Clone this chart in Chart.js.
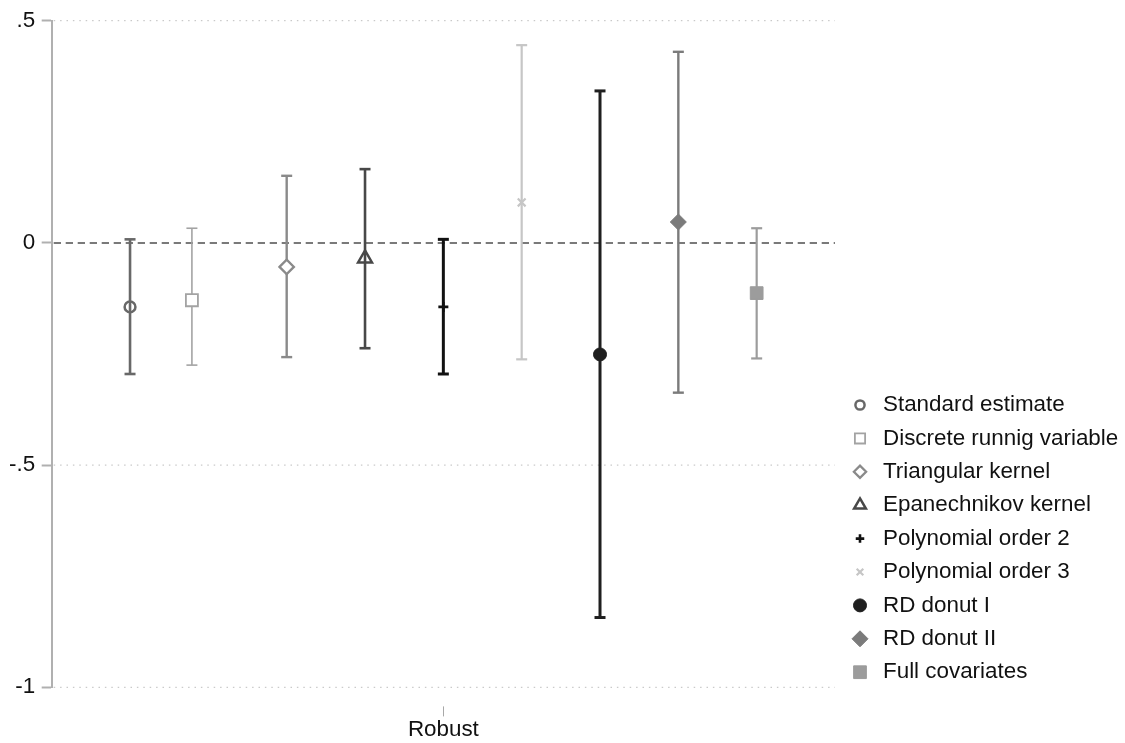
<!DOCTYPE html>
<html>
<head>
<meta charset="utf-8">
<script src="https://cdn.jsdelivr.net/npm/chart.js@4/dist/chart.umd.min.js"></script>
<style>
  html, body { margin: 0; padding: 0; background: #ffffff; }
  #wrap { width: 1125px; height: 743px; }
</style>
</head>
<body>
<div id="wrap"><canvas id="c" width="1125" height="743"></canvas></div>
<script>
// Estimates with 95% confidence intervals, one per specification
const methods = [
  'Standard estimate',
  'Discrete runnig variable',
  'Triangular kernel',
  'Epanechnikov kernel',
  'Polynomial order 2',
  'Polynomial order 3',
  'RD donut I',
  'RD donut II',
  'Full covariates'
];
const xPos     = [1, 1.79, 3, 4, 5, 6, 7, 8, 9];
const estimate = [-0.144, -0.129, -0.054, -0.035, -0.144, 0.091, -0.251, 0.047, -0.113];
const ciLow    = [-0.295, -0.275, -0.257, -0.237, -0.295, -0.262, -0.843, -0.337, -0.260];
const ciHigh   = [0.008, 0.033, 0.151, 0.166, 0.008, 0.445, 0.342, 0.430, 0.033];

const xTickValues = [5];
const xTickLabels = ['Robust'];
const yTickValues = [-1, -0.5, 0, 0.5];
const yTickLabels = ['-1', '-.5', '0', '.5'];

// Marker and line styling per specification
const lineColors   = ['#686868', '#a3a3a3', '#8a8a8a', '#484848', '#111111', '#c6c6c6', '#1f1f1f', '#7b7b7b', '#9c9c9c'];
const markerStyles = ['circle', 'rect', 'rectRot', 'triangle', 'cross', 'crossRot', 'circle', 'rectRot', 'rect'];
const markerFill   = ['rgba(255,255,255,0)', '#ffffff', '#ffffff', 'rgba(255,255,255,0)', '#ffffff', '#ffffff', null, null, null];
const markerRadius = [5.4, 8.5, 7.2, 8, 5, 5.5, 6.5, 8, 9];
const markerStroke = [2.5, 1.8, 2.3, 2.5, 2.6, 2.2, 1, 1, 1];
const barWidth     = [2.6, 1.6, 2.4, 2.6, 3, 2.2, 3, 2.4, 2.2];

const FONT = "'Liberation Sans', Arial, sans-serif";
const FONT_SIZE = 22.4;
const TEXT = '#111111';

const datasets = [];
methods.forEach((name, i) => {
  // confidence interval: vertical segment with horizontal caps
  datasets.push({
    type: 'line',
    label: name + ' CI',
    data: [{ x: xPos[i], y: ciLow[i] }, { x: xPos[i], y: ciHigh[i] }],
    borderColor: lineColors[i],
    borderWidth: barWidth[i],
    pointStyle: 'line',
    pointRadius: 5.5,
    pointBorderWidth: barWidth[i],
    pointBorderColor: lineColors[i],
    pointBackgroundColor: lineColors[i],
    fill: false,
    clip: false,
    order: 2
  });
  // point estimate
  datasets.push({
    type: 'scatter',
    label: name,
    data: [{ x: xPos[i], y: estimate[i] }],
    pointStyle: markerStyles[i],
    pointRadius: markerRadius[i],
    pointBorderWidth: markerStroke[i],
    pointBorderColor: lineColors[i],
    pointBackgroundColor: markerFill[i] || lineColors[i],
    clip: false,
    order: 1
  });
});

// Reference lines: dotted at the grid ticks, dashed at zero
const refLines = {
  id: 'refLines',
  beforeDatasetsDraw(chart) {
    const { ctx, chartArea: a, scales: { y } } = chart;
    ctx.save();
    yTickValues.forEach(v => {
      const py = y.getPixelForValue(v);
      if (v === 0) {
        ctx.setLineDash([7.3, 4.7]);
        ctx.strokeStyle = '#7a7a7a';
        ctx.lineWidth = 2;
      } else {
        ctx.setLineDash([1.5, 4.9]);
        ctx.strokeStyle = '#bdbdbd';
        ctx.lineWidth = 1;
      }
      ctx.beginPath();
      ctx.moveTo(a.left + 2, py);
      ctx.lineTo(a.right, py);
      ctx.stroke();
    });
    ctx.restore();
  }
};

// Legend column to the right of the plot
const sideLegend = {
  id: 'sideLegend',
  afterDraw(chart) {
    const ctx = chart.ctx;
    const markerX = 860, textX = 883, top = 405, row = 33.4;
    ctx.save();
    methods.forEach((name, i) => {
      const cy = top + i * row;
      const hollow = !!markerFill[i];
      ctx.setLineDash([]);
      ctx.fillStyle = hollow ? '#ffffff' : lineColors[i];
      ctx.strokeStyle = lineColors[i];
      ctx.lineWidth = markerStroke[i];
      Chart.helpers.drawPoint(ctx, {
        pointStyle: markerStyles[i],
        radius: markerRadius[i] * (hollow ? 0.85 : 1),
        borderWidth: markerStroke[i],
        rotation: 0
      }, markerX, cy);
      ctx.fillStyle = TEXT;
      ctx.font = FONT_SIZE + 'px ' + FONT;
      ctx.textBaseline = 'middle';
      ctx.textAlign = 'left';
      ctx.fillText(name, textX, cy);
    });
    ctx.restore();
  }
};

new Chart(document.getElementById('c'), {
  data: { datasets },
  options: {
    responsive: false,
    animation: false,
    events: [],
    devicePixelRatio: 1,
    layout: { padding: { left: 0, top: 20.7, right: 290, bottom: 0 } },
    plugins: {
      legend: { display: false },
      tooltip: { enabled: false }
    },
    scales: {
      x: {
        type: 'linear',
        min: 0,
        max: 10,
        afterBuildTicks: s => { s.ticks = xTickValues.map(v => ({ value: v })); },
        afterFit: s => { s.height = 55.7; },
        ticks: {
          callback: v => { const k = xTickValues.indexOf(v); return k >= 0 ? xTickLabels[k] : ''; },
          font: { family: FONT, size: FONT_SIZE, lineHeight: 1 },
          color: TEXT,
          padding: 2,
          maxRotation: 0,
          autoSkip: false
        },
        grid: {
          drawOnChartArea: false,
          drawTicks: true,
          tickLength: 29.4,
          tickColor: '#a8a8a8',
          tickWidth: 1,
          tickBorderDash: [0, 19.4, 10, 100]
        },
        border: { display: false }
      },
      y: {
        type: 'linear',
        min: -1,
        max: 0.5,
        afterBuildTicks: s => { s.ticks = yTickValues.map(v => ({ value: v })); },
        afterFit: s => { s.width = 51.7; },
        ticks: {
          callback: v => { const k = yTickValues.indexOf(v); return k >= 0 ? yTickLabels[k] : ''; },
          font: { family: FONT, size: FONT_SIZE },
          color: TEXT,
          padding: 6.5
        },
        grid: {
          drawOnChartArea: false,
          tickLength: 10,
          tickColor: '#b0b0b0',
          tickWidth: 2
        },
        border: { color: '#b0b0b0', width: 2 }
      }
    }
  },
  plugins: [refLines, sideLegend]
});
</script>
</body>
</html>
